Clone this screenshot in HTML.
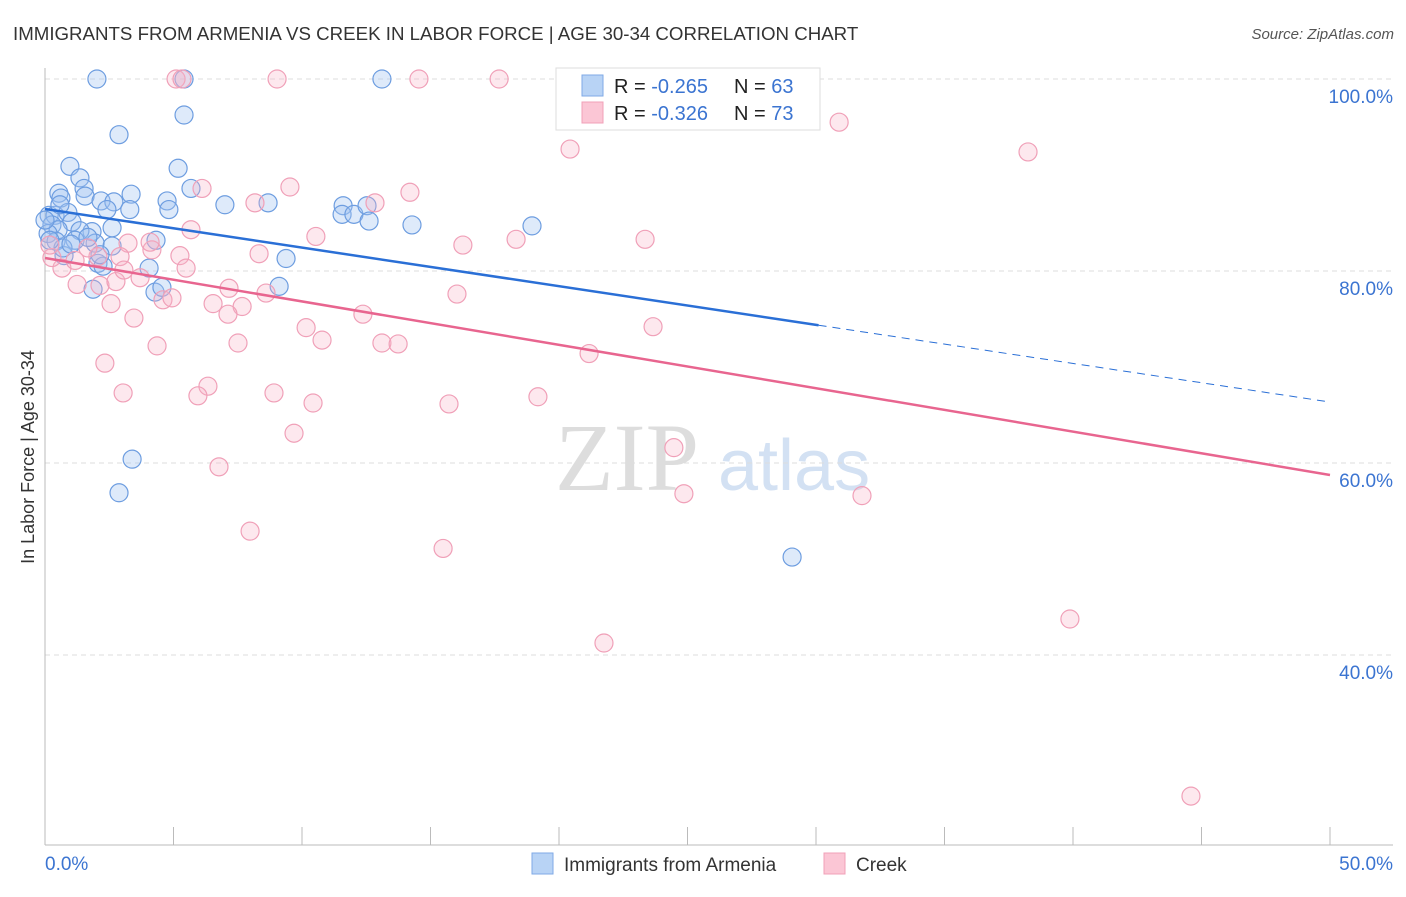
<!DOCTYPE html>
<html><head><meta charset="utf-8"><style>
body{margin:0;background:#fff;width:1406px;height:892px;overflow:hidden;font-family:"Liberation Sans",sans-serif}
</style></head><body>
<svg id="chart" width="1406" height="892" xmlns="http://www.w3.org/2000/svg" font-family="Liberation Sans, sans-serif">
<text x="13" y="40" font-size="18.7" fill="#333">IMMIGRANTS FROM ARMENIA VS CREEK IN LABOR FORCE | AGE 30-34 CORRELATION CHART</text>
<text x="1394" y="39" font-size="15" fill="#555" text-anchor="end" font-style="italic">Source: ZipAtlas.com</text>
<text x="555" y="490" font-size="96" fill="#ddd" font-family="Liberation Serif, serif">ZIP</text>
<text x="718" y="490" font-size="72" fill="#d3e1f3">atlas</text>
<text transform="translate(34,457) rotate(-90)" font-size="18" fill="#333" text-anchor="middle">In Labor Force | Age 30-34</text>
<g id="grid"></g><g id="axes"></g><g id="pts"></g><g id="lines"></g>
<g>
<rect x="556" y="68" width="264" height="62" fill="#fff" stroke="#ddd"/>
<rect x="582" y="75" width="21" height="21" fill="#b8d3f5" stroke="#7fa9e6"/>
<rect x="582" y="102" width="21" height="21" fill="#fbc6d5" stroke="#f0a0b8"/>
<text x="614" y="93" font-size="20" fill="#222">R = <tspan fill="#3b74d1">-0.265</tspan></text>
<text x="734" y="93" font-size="20" fill="#222">N = <tspan fill="#3b74d1">63</tspan></text>
<text x="614" y="120" font-size="20" fill="#222">R = <tspan fill="#3b74d1">-0.326</tspan></text>
<text x="734" y="120" font-size="20" fill="#222">N = <tspan fill="#3b74d1">73</tspan></text>
</g>
<g>
<rect x="532" y="853" width="21" height="21" fill="#b8d3f5" stroke="#7fa9e6"/>
<text x="564" y="871" font-size="19" fill="#333">Immigrants from Armenia</text>
<rect x="824" y="853" width="21" height="21" fill="#fbc6d5" stroke="#f0a0b8"/>
<text x="856" y="871" font-size="19" fill="#333">Creek</text>
</g>
</svg>
<script>
const yTicks=[100,80,60,40];
const yTickLabels=["100.0%","80.0%","60.0%","40.0%"];
const blueX=[2.02,5.41,13.11,2.88,5.41,0.97,5.18,1.36,0.54,1.52,0.62,1.56,3.35,2.18,2.68,2.41,5.68,4.75,4.82,7.0,8.68,11.6,11.56,12.02,12.53,12.61,14.28,18.95,0.16,0.39,0.89,1.05,0.27,0.51,0.12,0.43,1.83,1.36,2.61,1.17,1.95,2.61,4.32,0.74,2.06,2.26,4.05,9.38,1.87,4.28,4.55,9.11,3.39,2.88,29.07,0.7,1.67,1.01,0.0,0.58,3.3,0.19,2.14];
const blueY=[100,100,100,94.2,96.25,90.9,90.7,89.7,88.1,88.6,87.6,87.8,88.0,87.3,87.2,86.4,88.6,87.3,86.4,86.9,87.1,86.8,85.9,85.9,86.8,85.2,84.8,84.7,85.8,85.8,86.1,85.1,84.8,84.3,83.9,83.1,84.1,84.2,84.5,83.2,82.9,82.6,83.2,81.6,80.8,80.5,80.3,81.3,78.1,77.8,78.3,78.4,60.4,56.9,50.2,82.4,83.5,82.8,85.3,86.9,86.4,83.2,81.7];
const pinkX=[5.1,5.33,9.03,14.55,17.67,22.26,30.9,38.25,20.43,6.11,9.53,14.2,8.17,12.84,5.68,10.54,16.26,18.33,23.35,3.23,4.16,5.25,8.33,5.49,0.66,0.27,2.06,2.92,1.25,2.14,2.76,3.7,7.16,8.6,16.03,4.59,2.57,6.54,7.67,7.12,3.46,12.37,10.16,23.66,10.78,4.36,7.51,13.11,13.74,21.17,2.33,6.34,3.04,5.95,8.91,10.43,15.72,19.18,9.69,24.47,6.77,24.86,31.79,7.98,15.49,21.75,39.88,44.59,4.94,1.17,1.67,0.19,4.09,3.07];
const pinkY=[100,100,100,100,100,100,95.5,92.4,92.7,88.6,88.75,88.2,87.1,87.1,84.3,83.6,82.7,83.3,83.3,82.9,82.2,81.6,81.8,80.3,80.3,81.4,81.5,81.5,78.6,78.5,78.9,79.3,78.2,77.7,77.6,77.0,76.6,76.6,76.3,75.5,75.1,75.5,74.1,74.2,72.8,72.2,72.5,72.5,72.4,71.4,70.4,68.0,67.3,67.0,67.3,66.25,66.15,66.9,63.1,61.6,59.6,56.8,56.6,52.9,51.1,41.25,43.75,25.3,77.2,81.1,82.4,82.7,83.0,80.1];
const blueTrend=[86.46,66.35]; const blueSolidEnd=30.1;
const pinkTrend=[81.35,58.75];
const NS="http://www.w3.org/2000/svg";
const sx=v=>45+v*25.7, sy=v=>79+(100-v)*9.6;
function mk(tag,attrs,parent){const e=document.createElementNS(NS,tag);for(const k in attrs)e.setAttribute(k,attrs[k]);document.getElementById(parent).appendChild(e);return e;}
yTicks.forEach((t,i)=>{
 const l=mk('line',{x1:45,x2:1393,y1:sy(t),y2:sy(t),stroke:'#ddd','stroke-dasharray':'5,4'},'grid');
 
 
 const tx=mk('text',{x:1393,y:sy(t)+24,'font-size':19,fill:'#3b74d1','text-anchor':'end'},'grid');
 tx.textContent=yTickLabels[i];
 
 
});
let a=mk('line',{x1:45,x2:45,y1:68,y2:845,stroke:'#bbb'},'axes');


a=mk('line',{x1:45,x2:1393,y1:845,y2:845,stroke:'#bbb'},'axes');


for(let v=5;v<=50;v+=5){const t=mk('line',{x1:sx(v),x2:sx(v),y1:827,y2:845,stroke:'#bbb'},'axes');
 
 }
let xl=mk('text',{x:45,y:870,'font-size':19,fill:'#3b74d1'},'axes');xl.textContent='0.0%';


xl=mk('text',{x:1393,y:870,'font-size':19,fill:'#3b74d1','text-anchor':'end'},'axes');xl.textContent='50.0%';


blueX.forEach((x,i)=>{const c=mk('circle',{cx:sx(x),cy:sy(blueY[i]),r:9,fill:'rgba(160,196,240,0.35)',stroke:'#6d9de0','stroke-width':1.2},'pts');
 
 });
pinkX.forEach((x,i)=>{const c=mk('circle',{cx:sx(x),cy:sy(pinkY[i]),r:9,fill:'rgba(248,180,200,0.3)',stroke:'#f0a0b8','stroke-width':1.2},'pts');
 
 });
const by=x=>blueTrend[0]+(blueTrend[1]-blueTrend[0])*x/50;
let ln=mk('line',{x1:sx(0),y1:sy(by(0)),x2:sx(blueSolidEnd),y2:sy(by(blueSolidEnd)),stroke:'#2a6fd6','stroke-width':2.5},'lines');


ln=mk('line',{x1:sx(blueSolidEnd),y1:sy(by(blueSolidEnd)),x2:sx(50),y2:sy(by(50)),stroke:'#2a6fd6','stroke-width':1,'stroke-dasharray':'8,6'},'lines');


ln=mk('line',{x1:sx(0),y1:sy(pinkTrend[0]),x2:sx(50),y2:sy(pinkTrend[1]),stroke:'#e8658f','stroke-width':2.5},'lines');


</script>
</body></html>
